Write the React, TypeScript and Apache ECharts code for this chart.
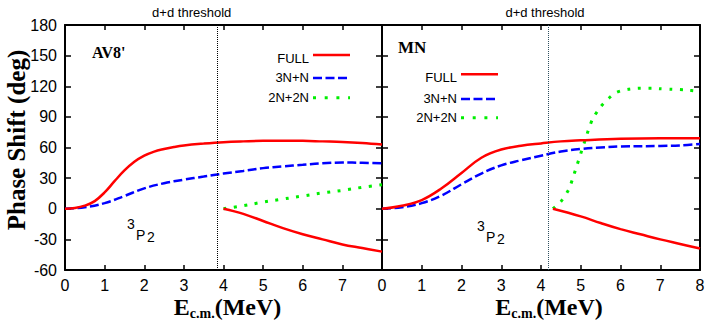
import React, { useEffect, useRef } from "react";
import * as echarts from "echarts";

// ---- data ----
const xTicks = [0, 1, 2, 3, 4, 5, 6, 7, 8];
const yTicks = [-60, -30, 0, 30, 60, 90, 120, 150, 180];
const panelNames = ["AV8'", "MN"];
const seriesNames = ["FULL", "3N+N", "2N+2N"];
const thresholds = [3.85, 4.19];

// AV8' panel
const av8Full: [number, number][] = [
  [0, 0], [0.25, 0.7], [0.5, 3], [0.75, 7.5], [1, 16], [1.25, 27], [1.5, 37.5], [1.75, 46],
  [2, 52], [2.25, 56], [2.5, 58.5], [2.75, 60.5], [3, 62], [3.5, 63.8], [4, 65.2], [4.5, 66], [5, 66.5],
  [5.5, 66.5], [6, 66.5], [6.5, 66], [7, 65.5], [7.5, 64.5], [8, 63],
];
const av8FullLow: [number, number][] = [
  [4, 0], [4.5, -5], [5, -12], [5.5, -19], [6, -25], [6.5, -30], [7, -35], [7.5, -38.5], [8, -42],
];
const av83N: [number, number][] = [
  [0, 0], [0.5, 1.5], [1, 5.5], [1.5, 12.5], [2, 20], [2.5, 25], [3, 28.5], [3.5, 31.5], [4, 34.5],
  [4.5, 37], [5, 39.8], [5.5, 41.5], [6, 43], [6.5, 44.5], [7, 45.3], [7.5, 45], [8, 44.5],
];
const av82N: [number, number][] = [
  [4, 0], [4.5, 3], [5, 6.5], [5.5, 9.5], [6, 12.5], [6.5, 15.5], [7, 18], [7.5, 21], [8, 23.5],
];

// MN panel
const mnFull: [number, number][] = [
  [0, 0], [0.5, 3], [1, 8.5], [1.5, 20], [2, 35], [2.5, 50], [3, 58], [3.5, 61.7], [4, 64],
  [4.5, 66], [5, 67], [6, 68.5], [7, 69], [8, 69],
];
const mnFullLow: [number, number][] = [
  [4.3, 0], [5, -7.5], [5.5, -14], [6, -20], [6.5, -25], [7, -30], [7.5, -34.5], [8, -39],
];
const mn3N: [number, number][] = [
  [0, 0], [0.5, 1.5], [1, 5.5], [1.5, 13], [2, 24], [2.5, 34.5], [3, 42.5], [3.5, 47.5], [4, 52],
  [4.5, 56], [5, 58.5], [5.5, 60], [6, 61], [7, 61.5], [7.5, 62], [8, 63.5],
];
const mn2N: [number, number][] = [
  [4.3, 0], [4.5, 7], [4.7, 19], [4.8, 30], [4.9, 42], [5, 54], [5.1, 66], [5.2, 78],
  [5.3, 88], [5.5, 100], [5.7, 108], [5.9, 114], [6.2, 117], [6.5, 118], [6.8, 118],
  [7, 117.5], [7.3, 117], [7.6, 116.5], [8, 115],
];

const RED = "#ff0000";
const BLUE = "#0000ff";
const GREEN = "#00ee00";
const SANS = "Liberation Sans";
const SERIF = "Liberation Serif";

export default function App() {
  const ref = useRef<HTMLDivElement>(null);
  useEffect(() => {
    if (!ref.current) return;
    const chart = echarts.init(ref.current, undefined, { renderer: "svg" });

    const xBase = (grid: number, pos: "bottom" | "top", showLabel: boolean, hideMax: boolean) => ({
      type: "value",
      gridIndex: grid,
      position: pos,
      min: xTicks[0],
      max: xTicks[xTicks.length - 1],
      interval: 1,
      axisLine: { show: true, onZero: false, lineStyle: { color: "#000", width: 2 } },
      axisTick: { show: true, inside: true, length: 5, lineStyle: { color: "#000", width: 1.5 } },
      axisLabel: {
        show: showLabel,
        margin: 7,
        fontSize: 16,
        fontFamily: SANS,
        color: "#000",
        formatter: (v: number) => (hideMax && v === 8 ? "" : String(v)),
      },
      splitLine: { show: false },
    });
    const yBase = (grid: number, pos: "left" | "right", showLabel: boolean) => ({
      type: "value",
      gridIndex: grid,
      position: pos,
      min: yTicks[0],
      max: yTicks[yTicks.length - 1],
      interval: 30,
      axisLine: { show: true, onZero: false, lineStyle: { color: "#000", width: 2 } },
      axisTick: { show: true, inside: true, length: 6, lineStyle: { color: "#000", width: 1.5 } },
      axisLabel: { show: showLabel, margin: 8, fontSize: 16, fontFamily: SANS, color: "#000" },
      splitLine: { show: false },
    });

    const line = (
      name: string,
      data: [number, number][],
      grid: number,
      color: string,
      type: any,
      width: number,
      smooth: number,
      extra: any = {}
    ) => ({
      name,
      type: "line",
      xAxisIndex: grid * 2,
      yAxisIndex: grid * 2,
      data,
      showSymbol: false,
      symbol: "none",
      smooth,
      lineStyle: { color, width, type },
      itemStyle: { color },
      z: 3,
      ...extra,
    });

    const thr = (x: number, color: string) => ({
      markLine: {
        silent: true,
        symbol: "none",
        label: { show: false },
        lineStyle: { color, type: "dotted", width: 1 },
        data: [{ xAxis: x }],
      },
    });

    const legend = (xr: number, ys: number[], lys: number[]) => {
      const els: any[] = [];
      const styles = [
        { stroke: RED, lineWidth: 2.5 },
        { stroke: BLUE, lineWidth: 2.5, lineDash: [9, 3.5] },
        { stroke: GREEN, lineWidth: 3, lineDash: [3, 8.7] },
      ];
      seriesNames.forEach((n, i) => {
        els.push({
          type: "text",
          x: xr,
          y: ys[i],
          style: { text: n, fontSize: 13, fontFamily: SANS, fill: "#000", align: "right", verticalAlign: "middle" },
        });
        els.push({
          type: "line",
          shape: { x1: xr + 4, y1: lys[i], x2: xr + 41, y2: lys[i] },
          style: styles[i],
        });
      });
      return els;
    };

    const p3 = (x: number, y: number) => [
      { type: "text", x, y, style: { text: "3", fontSize: 14, fontFamily: SANS, fill: "#000", align: "left", verticalAlign: "middle" } },
      { type: "text", x: x + 9, y: y + 10.5, style: { text: "P", fontSize: 14, fontFamily: SANS, fill: "#000", align: "left", verticalAlign: "middle" } },
      { type: "text", x: x + 20, y: y + 12.5, style: { text: "2", fontSize: 14, fontFamily: SANS, fill: "#000", align: "left", verticalAlign: "middle" } },
    ];

    const xTitle = (cx: number) => ({
      type: "text",
      x: cx,
      y: 307,
      style: {
        text: "{e|E}{s|c.m.}{e|(MeV)}",
        align: "center",
        verticalAlign: "middle",
        fill: "#000",
        rich: {
          e: { fontSize: 24, fontWeight: "bold", fontFamily: SERIF, lineHeight: 26, fill: "#000" },
          s: { fontSize: 14, fontWeight: "bold", fontFamily: SERIF, lineHeight: 14, verticalAlign: "bottom", fill: "#000" },
        },
      },
    });

    chart.setOption({
      animation: false,
      textStyle: { fontFamily: SANS },
      grid: [
        { left: 65, top: 25, width: 317, height: 245 },
        { left: 382, top: 25, width: 318, height: 245 },
      ],
      xAxis: [xBase(0, "bottom", true, true), xBase(0, "top", false, false), xBase(1, "bottom", true, false), xBase(1, "top", false, false)],
      yAxis: [yBase(0, "left", true), yBase(0, "right", false), yBase(1, "left", false), yBase(1, "right", false)],
      series: [
        line(seriesNames[1], av83N, 0, BLUE, [9, 3.5], 2.5, 0.4, thr(thresholds[0], "#000")),
        line(seriesNames[2], av82N, 0, GREEN, [3, 7.5], 3, 0.4),
        line(seriesNames[0], av8Full, 0, RED, "solid", 2.5, 0.4),
        line(seriesNames[0], av8FullLow, 0, RED, "solid", 2.5, 0.4),
        line(seriesNames[1], mn3N, 1, BLUE, [9, 3.5], 2.5, 0.4, thr(thresholds[1], "#2f4f5f")),
        line(seriesNames[2], mn2N, 1, GREEN, [3, 7.5], 3, 0.25),
        line(seriesNames[0], mnFull, 1, RED, "solid", 2.5, 0.4),
        line(seriesNames[0], mnFullLow, 1, RED, "solid", 2.5, 0.4),
      ],
      graphic: [
        {
          type: "text",
          x: 16,
          y: 140,
          rotation: Math.PI / 2,
          style: { text: "Phase Shift (deg)", fontSize: 25, fontWeight: "bold", fontFamily: SERIF, fill: "#000", align: "center", verticalAlign: "middle" },
        },
        xTitle(227.5),
        xTitle(549),
        { type: "text", x: 191.7, y: 12, style: { text: "d+d threshold", fontSize: 13, fontFamily: SANS, fill: "#000", align: "center", verticalAlign: "middle" } },
        { type: "text", x: 545, y: 12, style: { text: "d+d threshold", fontSize: 13, fontFamily: SANS, fill: "#000", align: "center", verticalAlign: "middle" } },
        { type: "text", x: 92, y: 52.5, style: { text: panelNames[0], fontSize: 16, fontWeight: "bold", fontFamily: SERIF, fill: "#000", align: "left", verticalAlign: "middle" } },
        { type: "text", x: 398, y: 47, style: { text: panelNames[1], fontSize: 17, fontWeight: "bold", fontFamily: SERIF, fill: "#000", align: "left", verticalAlign: "middle" } },
        ...legend(309, [58.3, 77.5, 97.3], [55, 78, 97.7]),
        ...legend(457, [77.2, 98, 117], [74.3, 99, 117.7]),
        ...p3(127, 224.3),
        ...p3(477, 226),
      ],
    });
    return () => chart.dispose();
  }, []);
  return <div ref={ref} style={{ position: "absolute", left: 0, top: 0, width: 708, height: 327 }} />;
}
